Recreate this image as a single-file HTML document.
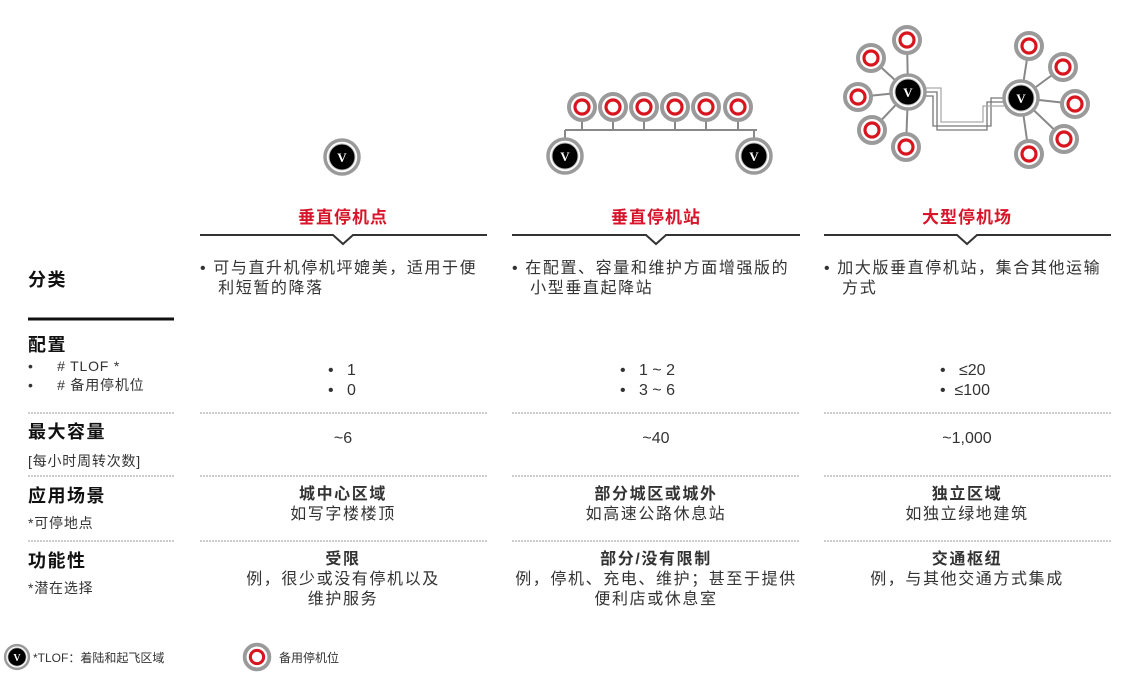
<!DOCTYPE html>
<html><head><meta charset="utf-8"><style>
body{margin:0;width:1123px;height:684px;background:#fff;position:relative;overflow:hidden;font-family:"Liberation Sans","Noto Sans CJK SC",sans-serif;color:#222}
.t{position:absolute;white-space:nowrap;line-height:20px}
.h{font-size:18px;font-weight:bold;color:#111;letter-spacing:1.5px}
.s{font-size:14px;color:#333;letter-spacing:0.8px}
.c{font-size:16px;color:#333;text-align:center;letter-spacing:1.6px}
.n{letter-spacing:0}
.r{font-size:17px;font-weight:bold;color:#d8142a;text-align:center;letter-spacing:1px}
</style></head><body>
<svg width="1123" height="684" style="position:absolute;left:0;top:0">
<defs>
<g id="b"><circle r="13" fill="#fff" stroke="#9a9a9a" stroke-width="4"/><circle r="7" fill="#fff" stroke="#d8141e" stroke-width="3.2"/></g>
<g id="v"><circle r="17" fill="#fff" stroke="#9a9a9a" stroke-width="3.5"/><circle r="13" fill="#000" stroke="#bbb" stroke-width="1"/></g>
</defs>
<g stroke="#888" stroke-width="2" fill="none">
<line x1="565" y1="130" x2="757" y2="130"/>
<line x1="565" y1="130" x2="565" y2="140"/><line x1="754" y1="130" x2="754" y2="140"/>
<line x1="582" y1="115" x2="582" y2="130"/><line x1="613" y1="115" x2="613" y2="130"/><line x1="644" y1="115" x2="644" y2="130"/><line x1="675" y1="115" x2="675" y2="130"/><line x1="706" y1="115" x2="706" y2="130"/><line x1="738" y1="115" x2="738" y2="130"/>
<line x1="908" y1="92" x2="907" y2="40"/><line x1="908" y1="92" x2="871" y2="58"/><line x1="908" y1="92" x2="858" y2="97"/><line x1="908" y1="92" x2="872" y2="130"/><line x1="908" y1="92" x2="906" y2="147"/>
<line x1="1021" y1="98" x2="1029" y2="46"/><line x1="1021" y1="98" x2="1063" y2="67"/><line x1="1021" y1="98" x2="1075" y2="104"/><line x1="1021" y1="98" x2="1064" y2="139"/><line x1="1021" y1="98" x2="1029" y2="154"/>
</g>
<g stroke="#777" stroke-width="1.3" fill="none">
<polyline points="925,92 937,92 937,130 987,130 987,102 1004,102"/>
<polyline points="925,96 933,96 933,126 991,126 991,98 1004,98" />
<polyline points="925,88 941,88 941,122 983,122 983,106 1004,106" stroke="#aaa"/>
</g>
<use href="#v" x="342" y="157"/><use href="#v" x="565" y="156"/><use href="#v" x="754" y="156"/><use href="#v" x="908" y="92"/><use href="#v" x="1021" y="98"/>
<use href="#b" x="582" y="107"/><use href="#b" x="613" y="107"/><use href="#b" x="644" y="107"/><use href="#b" x="675" y="107"/><use href="#b" x="706" y="107"/><use href="#b" x="738" y="107"/>
<use href="#b" x="907" y="40"/><use href="#b" x="871" y="58"/><use href="#b" x="858" y="97"/><use href="#b" x="872" y="130"/><use href="#b" x="906" y="147"/>
<use href="#b" x="1029" y="46"/><use href="#b" x="1063" y="67"/><use href="#b" x="1075" y="104"/><use href="#b" x="1064" y="139"/><use href="#b" x="1029" y="154"/>
<g transform="translate(17,657) scale(0.7)"><use href="#v"/></g>
<g transform="translate(257,657) scale(0.95)"><use href="#b"/></g>
<g font-family="Liberation Serif,serif" font-size="13" fill="#fff" text-anchor="middle" font-weight="bold">
<text x="342" y="162">V</text><text x="565" y="161">V</text><text x="754" y="161">V</text><text x="908" y="97">V</text><text x="1021" y="103">V</text>
<text x="17" y="661" font-size="10">V</text>
</g>
<g stroke="#333" stroke-width="2" fill="none">
<polyline points="200,235 333,235 343,244 353,235 487,235"/>
<polyline points="512,235 646,235 656,244 666,235 800,235"/>
<polyline points="824,235 957,235 967,244 977,235 1111,235"/>
</g>
<line x1="28" y1="319" x2="174" y2="319" stroke="#111" stroke-width="3"/>
<g stroke="#bbb" stroke-width="1.5" stroke-dasharray="2,1">
<line x1="28" y1="413" x2="174" y2="413"/><line x1="200" y1="413" x2="487" y2="413"/><line x1="512" y1="413" x2="800" y2="413"/><line x1="824" y1="413" x2="1111" y2="413"/>
<line x1="28" y1="476" x2="174" y2="476"/><line x1="200" y1="476" x2="487" y2="476"/><line x1="512" y1="476" x2="800" y2="476"/><line x1="824" y1="476" x2="1111" y2="476"/>
<line x1="28" y1="541" x2="174" y2="541"/><line x1="200" y1="541" x2="487" y2="541"/><line x1="512" y1="541" x2="800" y2="541"/><line x1="824" y1="541" x2="1111" y2="541"/>
</g>
</svg>

<div class="t r" style="left:243px;top:208px;width:200px">垂直停机点</div>
<div class="t r" style="left:556px;top:208px;width:200px">垂直停机站</div>
<div class="t r" style="left:867px;top:208px;width:200px">大型停机场</div>

<div class="t h" style="left:28px;top:270px">分类</div>
<div class="t c" style="left:200px;top:259px;text-align:left">•&nbsp;可与直升机停机坪媲美，适用于便<br>&nbsp;&nbsp; 利短暂的降落</div>
<div class="t c" style="left:512px;top:259px;text-align:left">•&nbsp;在配置、容量和维护方面增强版的<br>&nbsp;&nbsp; 小型垂直起降站</div>
<div class="t c" style="left:824px;top:259px;text-align:left">•&nbsp;加大版垂直停机站，集合其他运输<br>&nbsp;&nbsp; 方式</div>

<div class="t h" style="left:28px;top:335px">配置</div>
<div class="t s" style="left:28px;top:357px;line-height:19px">•&nbsp;&nbsp;&nbsp;&nbsp; # TLOF *<br>•&nbsp;&nbsp;&nbsp;&nbsp; # 备用停机位</div>
<div class="t c n" style="left:328px;top:361px;text-align:left">•&nbsp;&nbsp; 1<br>•&nbsp;&nbsp; 0</div>
<div class="t c n" style="left:620px;top:361px;text-align:left">•&nbsp;&nbsp; 1 ~ 2<br>•&nbsp;&nbsp; 3 ~ 6</div>
<div class="t c n" style="left:940px;top:361px;text-align:left">•&nbsp;&nbsp; ≤20<br>•&nbsp; ≤100</div>

<div class="t h" style="left:28px;top:422px">最大容量</div>
<div class="t s" style="left:28px;top:451px">[每小时周转次数]</div>
<div class="t c n" style="left:243px;top:429px;width:200px">~6</div>
<div class="t c n" style="left:556px;top:429px;width:200px">~40</div>
<div class="t c n" style="left:867px;top:429px;width:200px">~1,000</div>

<div class="t h" style="left:28px;top:486px">应用场景</div>
<div class="t s" style="left:28px;top:513px">*可停地点</div>
<div class="t c" style="left:193px;top:485px;width:300px"><b>城中心区域</b><br>如写字楼楼顶</div>
<div class="t c" style="left:506px;top:485px;width:300px"><b>部分城区或城外</b><br>如高速公路休息站</div>
<div class="t c" style="left:817px;top:485px;width:300px"><b>独立区域</b><br>如独立绿地建筑</div>

<div class="t h" style="left:28px;top:551px">功能性</div>
<div class="t s" style="left:28px;top:578px">*潜在选择</div>
<div class="t c" style="left:193px;top:550px;width:300px"><b>受限</b><br>例，很少或没有停机以及<br>维护服务</div>
<div class="t c" style="left:506px;top:550px;width:300px"><b>部分/没有限制</b><br>例，停机、充电、维护；甚至于提供<br>便利店或休息室</div>
<div class="t c" style="left:817px;top:550px;width:300px"><b>交通枢纽</b><br>例，与其他交通方式集成</div>

<div class="t" style="left:33px;top:648px;font-size:12px;color:#333">*TLOF：着陆和起飞区域</div>
<div class="t" style="left:279px;top:648px;font-size:12px;color:#333">备用停机位</div>
</body></html>
